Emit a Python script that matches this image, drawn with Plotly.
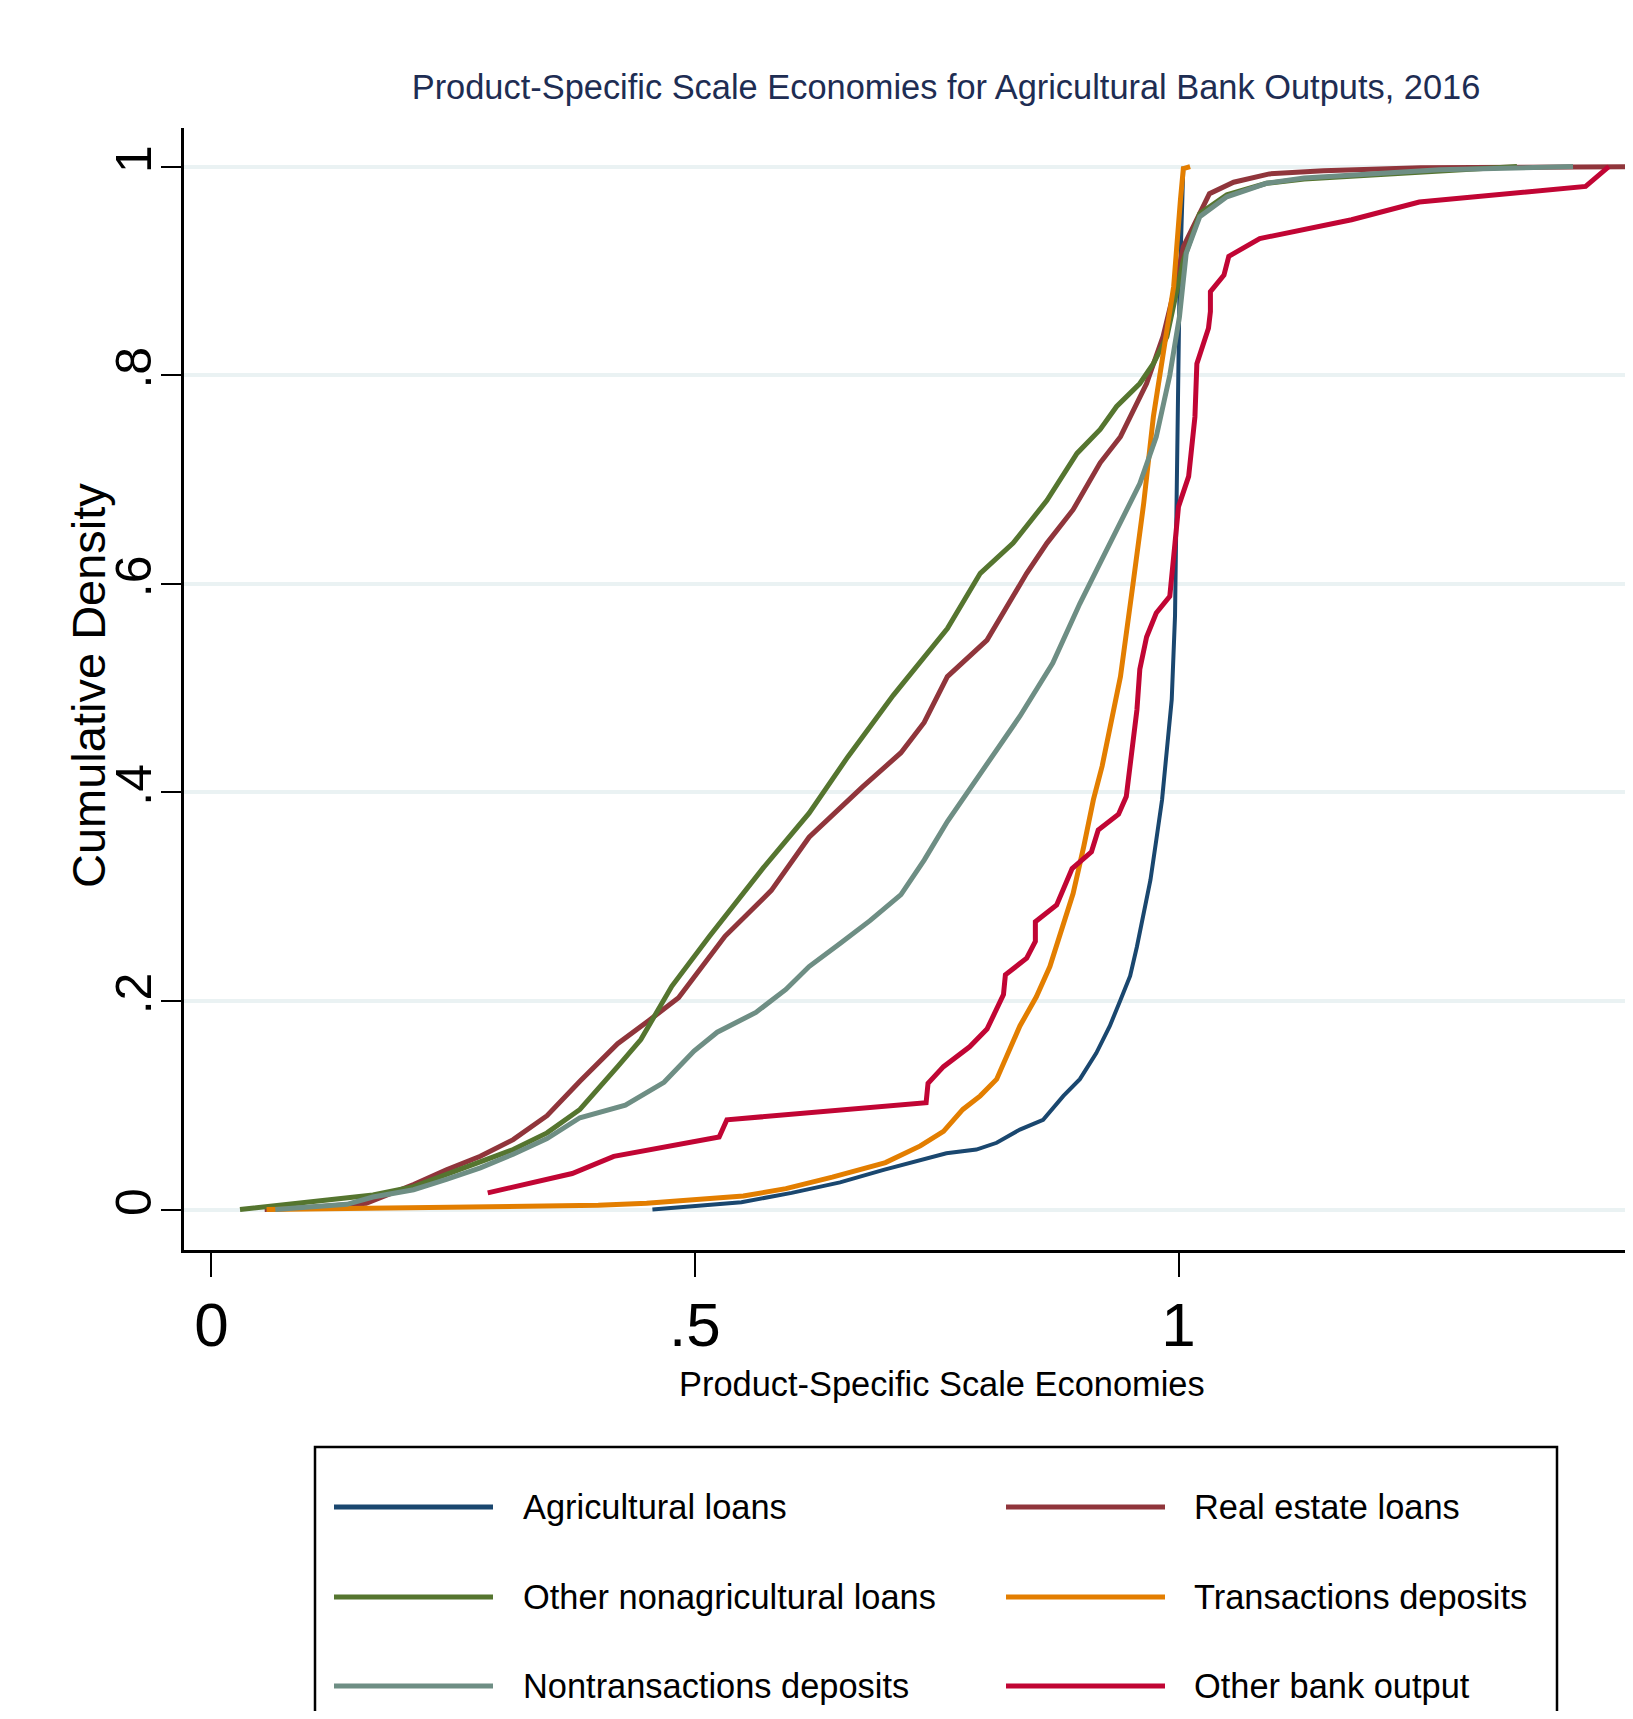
import plotly.graph_objects as go

# ---------------- data ----------------
series_names = ["Agricultural loans", "Real estate loans", "Other nonagricultural loans",
                "Transactions deposits", "Nontransactions deposits", "Other bank output"]
series_colors = ["#1a476f", "#90353b", "#55752f", "#e37e00", "#6e8e84", "#c10534"]

ag_x = [.456, .50, .548, .60, .65, .695, .726, .760, .791, .812, .836, .860, .881, .898, .915,
        .929, .940, .950, .957, .964, .971, .977, .983, .988, .993, .9964, .998, .9997, 1.001,
        1.003, 1.005]
ag_y = [0, .003, .007, .016, .026, .038, .046, .054, .0575, .064, .0767, .086, .109, .125, .150,
        .176, .201, .224, .252, .284, .316, .354, .393, .441, .489, .569, .695, .792, .880,
        .940, 1.0]

re_x = [.055, .10, .160, .209, .243, .278, .312, .347, .381, .420, .452, .483, .531, .579, .618,
        .673, .713, .737, .761, .802, .843, .864, .891, .919, .940, .967, .984, .995, 1.005,
        1.032, 1.057, 1.094, 1.15, 1.25, 1.5]
re_y = [0, .002, .006, .024, .038, .051, .067, .090, .123, .159, .181, .203, .262, .306, .357,
        .405, .438, .467, .511, .546, .610, .639, .671, .716, .741, .792, .837, .879, .923,
        .974, .985, .993, .996, .999, 1.0]

ona_x = [.0295, .105, .167, .209, .243, .278, .312, .347, .381, .420, .444, .476, .515, .571,
         .618, .658, .705, .761, .795, .829, .864, .895, .919, .936, .960, .974, .988, 1.005,
         1.022, 1.050, 1.091, 1.13, 1.235, 1.35]
ona_y = [0, .008, .014, .022, .0335, .046, .0575, .0735, .096, .137, .163, .214, .262, .328,
         .380, .434, .493, .557, .610, .639, .680, .725, .748, .770, .792, .811, .837, .910,
         .955, .973, .984, .988, .994, 1.0]

td_x = [.057, .27, .40, .45, .511, .55, .594, .642, .697, .733, .757, .777, .795, .812, .836,
        .853, .867, .881, .891, .902, .912, .921, .928, .934, .940, .953, .964, .974, .984,
        .995, 1.002, 1.005, 1.012]
td_y = [0, .002, .004, .006, .0096, .013, .020, .031, .045, .061, .075, .096, .109, .125, .176,
        .204, .233, .272, .303, .348, .393, .425, .455, .485, .511, .600, .677, .760, .820,
        .885, .968, .998, 1.0]

ntd_x = [.066, .140, .167, .209, .243, .278, .312, .347, .381, .428, .468, .499, .523, .563,
         .594, .618, .650, .681, .713, .737, .761, .812, .836, .870, .898, .919, .939, .960,
         .977, .991, 1.001, 1.008, 1.022, 1.05, 1.091, 1.13, 1.27, 1.408]
ntd_y = [0, .005, .012, .019, .029, .040, .053, .068, .088, .100, .122, .152, .170, .189,
         .211, .233, .255, .277, .302, .335, .372, .441, .473, .524, .581, .620, .658, .696,
         .741, .800, .856, .917, .952, .971, .984, .989, .997, 1.0]

ob_x = [.2857, .373, .416, .525, .533, .739, .741, .757, .784, .802, .819, .821, .843, .852,
        .852, .874, .890, .910, .917, .938, .946, .952, .957, .960, .967, .977, .991, .9964,
        1.000, 1.0105, 1.017, 1.019, 1.031, 1.033, 1.033, 1.047, 1.052, 1.084, 1.122, 1.179,
        1.249, 1.421, 1.445]
ob_y = [.016, .0345, .051, .0695, .086, .1025, .121, .137, .156, .173, .206, .225, .241, .257,
        .276, .292, .327, .343, .364, .379, .396, .441, .479, .518, .549, .572, .588, .639,
        .674, .703, .760, .811, .845, .861, .880, .896, .914, .931, .938, .949, .966, .981, 1.0]

x_tickvals = [0, 0.5, 1]
x_ticktext = ["0", ".5", "1"]
y_tickvals = [0, 0.2, 0.4, 0.6, 0.8, 1]
y_ticktext = ["0", ".2", ".4", ".6", ".8", "1"]

series_x = [ag_x, re_x, ona_x, td_x, ntd_x, ob_x]
series_y = [ag_y, re_y, ona_y, td_y, ntd_y, ob_y]

# ---------------- figure geometry ----------------
OFF = 8                      # default page margin of the written html
W, H = 1633 - OFF, 1719 - 2 * OFF
# plot area in page pixels: x 184..1633, y 128..1250
L, T = 184 - OFF, 128 - OFF
R = 0
B = H - (1250 - OFF)
PW, PH = W - L - R, H - T - B

FONT = "Liberation Sans, Arial, sans-serif"


def px(xp):
    """page pixel x -> paper x"""
    return (xp - OFF - L) / PW


def py(yp):
    """page pixel y -> paper y"""
    return (H - B - (yp - OFF)) / PH


fig = go.Figure()
widths = [4, 5, 5, 5, 5, 5]
for name, color, xs, ys, w in zip(series_names, series_colors, series_x, series_y, widths):
    fig.add_trace(go.Scatter(x=xs, y=ys, mode="lines", name=name,
                             line=dict(color=color, width=w), showlegend=False))

shapes = []
annotations = []
# legend box
shapes.append(dict(type="rect", xref="paper", yref="paper",
                   x0=px(315), x1=px(1557), y0=py(1447), y1=py(1760),
                   line=dict(color="black", width=2.5), fillcolor="white", layer="above"))
row_y = [1507, 1597, 1686]
col_line = [(334, 493, 521), (1006, 1165, 1192)]
for i, (name, color) in enumerate(zip(series_names, series_colors)):
    r, c = divmod(i, 2)
    lx0, lx1, tx = col_line[c]
    yy = py(row_y[r])
    shapes.append(dict(type="line", xref="paper", yref="paper", x0=px(lx0), x1=px(lx1),
                       y0=yy, y1=yy, line=dict(color=color, width=5), layer="above"))
    annotations.append(dict(text=name, xref="paper", yref="paper", x=px(tx), y=yy,
                            xanchor="left", yanchor="middle", showarrow=False,
                            font=dict(family=FONT, size=34.4, color="black")))

# axis titles
annotations.append(dict(text="Product-Specific Scale Economies", xref="paper", yref="paper",
                        x=px(942), y=py(1384), xanchor="center", yanchor="middle",
                        showarrow=False, font=dict(family=FONT, size=34.4, color="black")))
annotations.append(dict(text="Cumulative Density", xref="paper", yref="paper",
                        x=px(88), y=py(686), xanchor="center", yanchor="middle",
                        textangle=-90, showarrow=False,
                        font=dict(family=FONT, size=47, color="black")))

fig.update_layout(
    width=W, height=H,
    margin=dict(l=L, r=R, t=T, b=B, autoexpand=False),
    paper_bgcolor="white", plot_bgcolor="white",
    title=dict(text="Product-Specific Scale Economies for Agricultural Bank Outputs, 2016",
               x=px(946), xref="paper", xanchor="center",
               y=1 - (87 - OFF) / H, yref="container", yanchor="middle",
               font=dict(family=FONT, size=34.4, color="#1e2d53")),
    xaxis=dict(range=[-0.0284, 1.47], tickvals=x_tickvals, ticktext=x_ticktext,
               showgrid=False, zeroline=False, showline=True, linecolor="black", linewidth=2.5,
               ticks="outside", ticklen=24, tickwidth=2, tickcolor="black",
               ticklabelstandoff=-5,
               tickfont=dict(family=FONT, size=62, color="black")),
    yaxis=dict(range=[-0.0388, 1.037], tickvals=y_tickvals, ticktext=y_ticktext,
               showgrid=True, gridcolor="#eaf2f3", gridwidth=4, zeroline=False,
               showline=True, linecolor="black", linewidth=2.5,
               ticks="outside", ticklen=20, tickwidth=2, tickcolor="black",
               tickangle=-90, ticklabelstandoff=-10,
               tickfont=dict(family=FONT, size=50, color="black")),
    shapes=shapes, annotations=annotations,
    showlegend=False,
)

fig.write_html("out.html")
